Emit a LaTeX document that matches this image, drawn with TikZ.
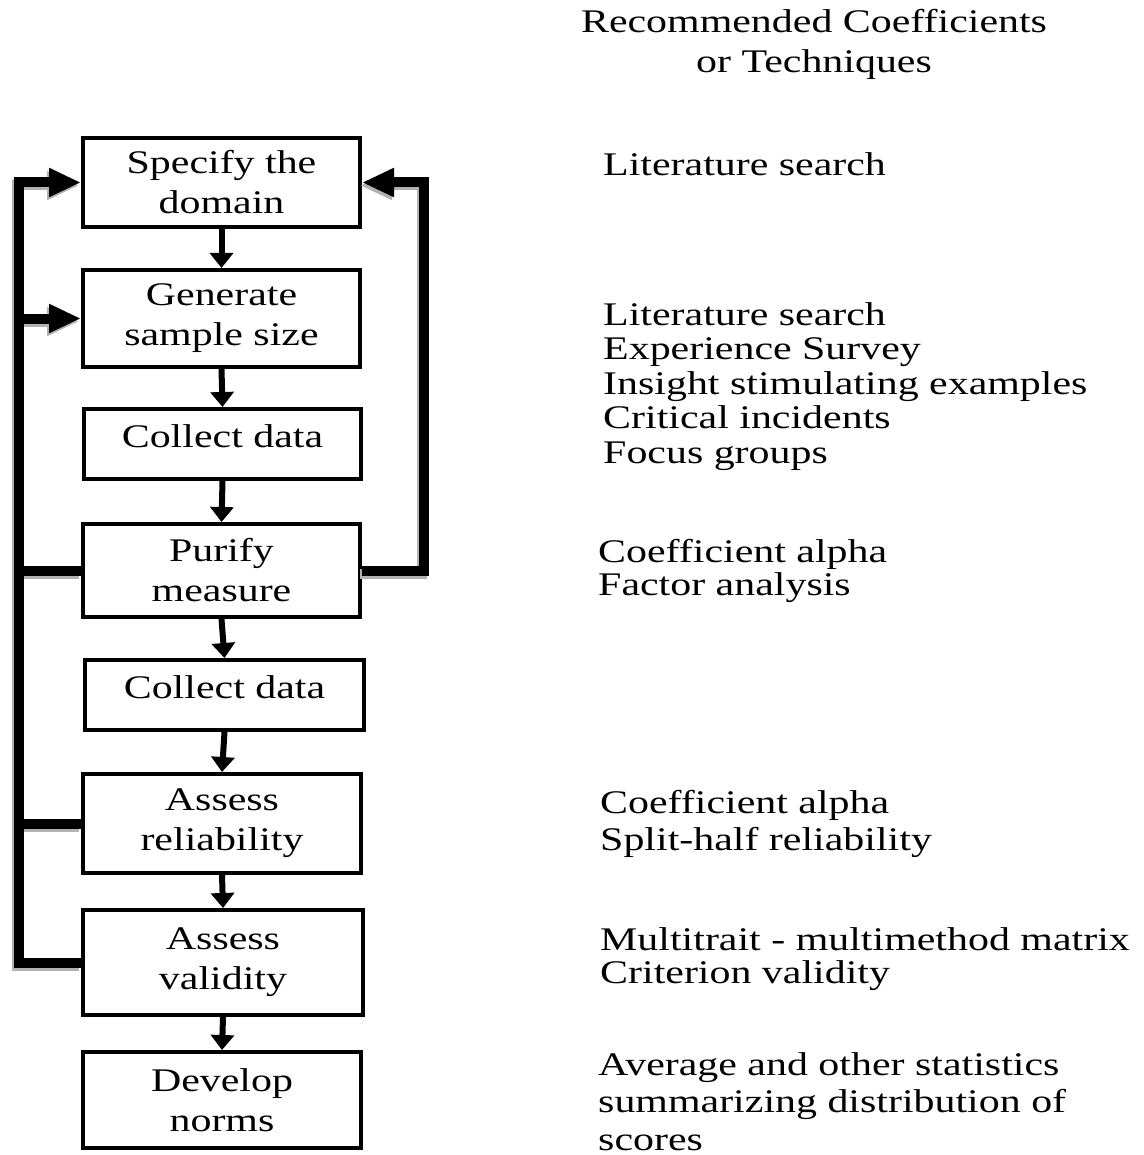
\documentclass[tikz,border=0pt]{standalone}
\usepackage{fontspec}
\setmainfont{Liberation Serif}[FakeStretch=1.27]
\usetikzlibrary{arrows.meta}
\newcommand\fbpaths[1]{%
  \draw[fbline,fbtip,#1] (b7.west) -| (lt) -- (b1.west);
  \draw[fbline,#1] (b6.west) -- (b6.west -| lt);
  \draw[fbline,#1] (b4.west) -- (b4.west -| lt);
  \draw[fbline,fbtip,#1] (b2.west -| lt) -- (b2.west);
  \draw[fbline,fbtip,#1] (b4.east) -| (rt) -- (b1.east);
}
\begin{document}
\begin{tikzpicture}[x=1pt,y=-1pt,
  box/.style={draw, line width=4pt, minimum width=277pt, inner sep=0pt,
    align=center, font=\fontsize{33}{40}\selectfont},
  flow/.style={line width=6pt, -{Triangle[length=15pt,width=23pt]}},
  fbline/.style={line width=10pt, line join=miter},
  fbtip/.style={-{Triangle[length=32pt,width=27pt]}},
  note/.style={anchor=base west, align=left, inner sep=0pt},
  head/.style={anchor=base, align=center, inner sep=0pt, font=\fontsize{33}{40}\selectfont}]
\useasboundingbox (0,0) rectangle (1143,1155);

% flow boxes
\node[box, minimum height=89pt] (b1) at (221.5,182.5) {Specify the\\domain};
\node[box, minimum height=97pt] (b2) at (221.5,318.5) {Generate\\sample size};
\node[box, minimum height=70pt, text depth=16pt] (b3) at (222.5,444) {Collect data};
\node[box, minimum height=93pt] (b4) at (221.5,570.5) {Purify\\measure};
\node[box, minimum width=279pt, minimum height=70pt, text depth=16pt] (b5) at (224.5,695) {Collect data};
\node[box, minimum width=278pt, minimum height=99pt] (b6) at (222,823.5) {Assess\\reliability};
\node[box, minimum width=280pt, minimum height=105pt] (b7) at (223,962.5) {Assess\\validity};
\node[box, minimum width=278pt, minimum height=96pt] (b8) at (222,1100) {Develop\\norms};

% feedback corners
\coordinate (lt) at (19,182.5);
\coordinate (rt) at (424,182.5);

% shadows of feedback lines, then the lines
\begin{scope}[transform canvas={shift={(-2pt,-3pt)}}]
  \fbpaths{draw=black!30}
\end{scope}
\fbpaths{draw=black}

% flow arrows
\draw[flow] (b1.south) -- (b2.north);
\draw[flow] (b2.south) -- (b3.north);
\draw[flow] (b3.south) -- (b4.north);
\draw[flow] (b4.south) -- (b5.north);
\draw[flow] (b5.south) -- (b6.north);
\draw[flow] (b6.south) -- (b7.north);
\draw[flow] (b7.south) -- (b8.north);

% right column (base anchor = baseline of the last line)
\node[head] (h1) at (814,73) {Recommended Coefficients\\or Techniques};
\node[note, font=\fontsize{33}{35}\selectfont] (n1) at (603,176) {Literature search};
\node[note, font=\fontsize{33}{34.5}\selectfont] (n2) at (603,463) {Literature search\\Experience Survey\\Insight stimulating examples\\Critical incidents\\Focus groups};
\node[note, font=\fontsize{33}{33}\selectfont] (n3) at (598,595) {Coefficient alpha\\Factor analysis};
\node[note, font=\fontsize{33}{37}\selectfont] (n4) at (600,850) {Coefficient alpha\\Split-half reliability};
\node[note, font=\fontsize{33}{33}\selectfont] (n5) at (600,983) {Multitrait - multimethod matrix\\Criterion validity};
\node[note, font=\fontsize{33}{37.5}\selectfont] (n6) at (598,1150) {Average and other statistics\\summarizing distribution of\\scores};
\end{tikzpicture}
\end{document}
